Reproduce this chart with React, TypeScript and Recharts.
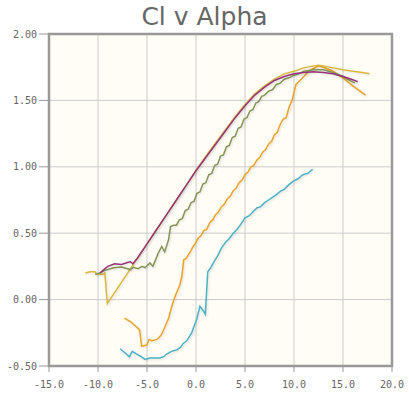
import React from "react";
import { LineChart, Line, XAxis, YAxis, CartesianGrid, ReferenceArea } from "recharts";

const xTicks = [-15, -10, -5, 0, 5, 10, 15, 20];
const yTicks = [-0.5, 0, 0.5, 1, 1.5, 2];

const tealAlpha = [-7.75, -7.25, -6.8, -6.5, -6.05, -5.6, -5.2, -4.7, -4.2, -3.7, -3.3, -3.0, -2.5, -2.0, -1.6, -1.3, -0.95, -0.7, -0.44, -0.2, 0.07, 0.4, 0.7, 0.95, 1.2, 1.5, 1.8, 2.2, 2.6, 3.0, 3.4, 3.8, 4.2, 4.6, 5.0, 5.4, 5.8, 6.2, 6.6, 7.0, 7.4, 7.8, 8.2, 8.6, 9.0, 9.4, 9.9, 10.4, 10.9, 11.4, 11.9];
const tealCl = [-0.37, -0.4, -0.43, -0.39, -0.41, -0.43, -0.45, -0.44, -0.44, -0.44, -0.43, -0.41, -0.39, -0.38, -0.36, -0.33, -0.31, -0.28, -0.25, -0.2, -0.15, -0.05, -0.08, -0.11, 0.21, 0.24, 0.28, 0.33, 0.39, 0.43, 0.46, 0.5, 0.53, 0.57, 0.615, 0.63, 0.66, 0.69, 0.7, 0.73, 0.75, 0.77, 0.79, 0.815, 0.83, 0.86, 0.89, 0.91, 0.94, 0.95, 0.98];

const orangeAlpha = [-7.3, -6.7, -6.0, -5.75, -5.55, -5.2, -5.0, -4.8, -4.5, -4.0, -3.7, -3.5, -3.2, -2.8, -2.5, -2.3, -2.0, -1.65, -1.45, -1.25, -1.0, -0.75, -0.5, -0.3, -0.1, 0.2, 0.5, 0.8, 1.1, 1.4, 1.7, 2.0, 2.3, 2.6, 2.9, 3.2, 3.5, 3.8, 4.1, 4.4, 4.7, 5.0, 5.3, 5.6, 5.9, 6.2, 6.5, 6.8, 7.1, 7.4, 7.7, 8.0, 8.3, 8.6, 8.9, 9.2, 9.5, 9.8, 10.0, 10.2, 10.6, 11.0, 11.5, 12.0, 12.5, 13.0, 14.0, 15.0, 16.0, 17.3];
const orangeCl = [-0.14, -0.165, -0.21, -0.23, -0.35, -0.345, -0.34, -0.3, -0.31, -0.3, -0.28, -0.26, -0.21, -0.14, -0.06, -0.01, 0.05, 0.11, 0.17, 0.3, 0.31, 0.34, 0.37, 0.4, 0.42, 0.46, 0.48, 0.52, 0.53, 0.58, 0.6, 0.64, 0.66, 0.7, 0.72, 0.76, 0.78, 0.82, 0.84, 0.88, 0.9, 0.94, 0.96, 1.0, 1.01, 1.05, 1.07, 1.11, 1.13, 1.17, 1.19, 1.24, 1.26, 1.32, 1.36, 1.37, 1.45, 1.5, 1.56, 1.62, 1.65, 1.68, 1.72, 1.74, 1.76, 1.75, 1.72, 1.67, 1.61, 1.54];

const yellowAlpha = [-11.3, -10.8, -10.3, -10.1, -9.5, -9.3, -9.05, -5.0, -4.0, -3.0, -2.0, -1.0, 0, 1, 2, 3, 4, 5, 6, 7, 8, 9, 10, 11, 12, 12.5, 13, 14, 15, 16, 17, 17.7];
const yellowCl = [0.2, 0.21, 0.21, 0.19, 0.19, 0.2, -0.03, 0.42, 0.53, 0.64, 0.75, 0.86, 0.975, 1.08, 1.18, 1.28, 1.38, 1.47, 1.55, 1.61, 1.66, 1.7, 1.72, 1.745, 1.76, 1.765, 1.76, 1.745, 1.73, 1.72, 1.71, 1.7];

const greenAlpha = [-10.3, -9.8, -9.3, -8.4, -7.6, -6.7, -6.4, -5.9, -5.5, -5.2, -4.7, -4.4, -3.85, -3.5, -3.2, -2.8, -2.6, -2.3, -2.0, -1.7, -1.4, -1.1, -0.8, -0.5, -0.2, 0.1, 0.4, 0.7, 1.0, 1.3, 1.6, 1.9, 2.2, 2.5, 2.8, 3.1, 3.4, 3.7, 4.0, 4.3, 4.6, 4.9, 5.2, 5.5, 5.8, 6.1, 6.4, 6.7, 7.0, 7.4, 7.8, 8.2, 8.6, 9.0, 9.5, 10, 10.5, 11, 12, 13, 14, 15, 16.2];
const greenCl = [0.19, 0.2, 0.22, 0.24, 0.245, 0.226, 0.243, 0.233, 0.25, 0.24, 0.276, 0.25, 0.35, 0.4, 0.36, 0.45, 0.55, 0.56, 0.56, 0.6, 0.61, 0.67, 0.68, 0.73, 0.74, 0.8, 0.81, 0.87, 0.88, 0.94, 0.95, 1.01, 1.02, 1.08, 1.09, 1.15, 1.16, 1.22, 1.23, 1.29, 1.3, 1.36, 1.37, 1.42, 1.43, 1.48, 1.49, 1.53, 1.54, 1.57, 1.58, 1.62, 1.63, 1.66, 1.67, 1.69, 1.7, 1.72, 1.73, 1.73, 1.71, 1.68, 1.63];

const purpleAlpha = [-9.8, -9.5, -9.0, -8.3, -7.6, -7.0, -6.7, -6.45, -6.0, -5.0, -4.0, -3.0, -2.0, -1.0, 0, 1, 2, 3, 4, 5, 6, 7, 8, 9, 10, 11, 12, 13, 14, 15, 16, 16.5];
const purpleCl = [0.2, 0.22, 0.25, 0.27, 0.265, 0.28, 0.285, 0.27, 0.31, 0.42, 0.53, 0.64, 0.75, 0.86, 0.97, 1.07, 1.17, 1.27, 1.37, 1.46, 1.54, 1.6, 1.65, 1.68, 1.7, 1.71, 1.715, 1.71, 1.7, 1.68, 1.655, 1.64];

const toData = (a: number[], c: number[]) => a.map((x, i) => ({ alpha: x, cl: c[i] }));

const series = [
  { name: "teal", color: "#4bb2c5", data: toData(tealAlpha, tealCl) },
  { name: "orange", color: "#EAA228", data: toData(orangeAlpha, orangeCl) },
  { name: "yellow", color: "#d8b83f", data: toData(yellowAlpha, yellowCl) },
  { name: "green", color: "#839557", data: toData(greenAlpha, greenCl) },
  { name: "purple", color: "#953579", data: toData(purpleAlpha, purpleCl) },
];

const tickFont = { fill: "#666666", fontSize: 10, fontFamily: "'DejaVu Sans Mono', monospace" };

export default function App() {
  return (
    <div style={{ position: "absolute", left: 0, top: 0, width: 409, height: 397, background: "#ffffff" }}>
      <style>{`.frame rect { filter: drop-shadow(1.5px 1.5px 1px rgba(0,0,0,0.18)); } .recharts-line-curve { filter: drop-shadow(1px 1px 0.8px rgba(0,0,0,0.12)); }`}</style>
      <svg width={409} height={34} style={{ position: "absolute", left: 0, top: 0 }}>
        <text
          x={204.5}
          y={25}
          textAnchor="middle"
          fontFamily="'DejaVu Sans', sans-serif"
          fontSize={25}
          fill="#666666"
        >
          Cl v Alpha
        </text>
      </svg>
      <LineChart width={409} height={397} margin={{ top: 34, right: 17, bottom: 1, left: 0 }}>
        <CartesianGrid stroke="#cccccc" strokeWidth={1} fill="#fffdf6" fillOpacity={1} horizontalValues={yTicks} verticalValues={xTicks} />
        <XAxis
          dataKey="alpha"
          type="number"
          domain={[-15, 20]}
          ticks={xTicks}
          allowDataOverflow
          height={30}
          tickSize={6}
          tickMargin={9}
          axisLine={false}
          tickLine={{ stroke: "#999999" }}
          tick={tickFont}
          tickFormatter={(v: number) => v.toFixed(1)}
          interval={0}
        />
        <YAxis
          type="number"
          domain={[-0.5, 2]}
          ticks={yTicks}
          allowDataOverflow
          width={49}
          tickSize={10}
          tickMargin={2}
          axisLine={false}
          tickLine={{ stroke: "#999999" }}
          tick={tickFont}
          tickFormatter={(v: number) => v.toFixed(2)}
          interval={0}
        />
        <ReferenceArea
          className="frame"
          x1={-15}
          x2={20}
          y1={-0.5}
          y2={2}
          fill="none"
          fillOpacity={0}
          stroke="#999999"
          strokeWidth={2.5}
          ifOverflow="extendDomain"
        />
        {series.map((s) => (
          <Line
            key={s.name}
            data={s.data}
            dataKey="cl"
            type="linear"
            stroke={s.color}
            strokeWidth={1.5}
            dot={false}
            activeDot={false}
            isAnimationActive={false}
          />
        ))}
      </LineChart>
    </div>
  );
}
